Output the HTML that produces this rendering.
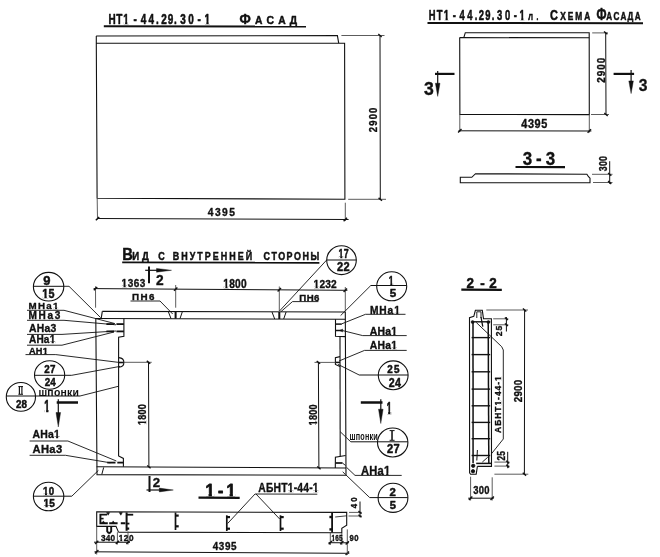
<!DOCTYPE html>
<html lang="ru">
<head>
<meta charset="utf-8">
<title>НТ1-44.29.30-1</title>
<style>
html,body{margin:0;padding:0;background:#fff;}
body{width:660px;height:557px;overflow:hidden;}
svg{display:block;will-change:transform;}
svg text{font-family:"Liberation Sans", sans-serif;fill:#111;}
svg line,svg polyline,svg polygon,svg path,svg circle,svg ellipse{stroke:#111;}
</style>
</head>
<body>
<svg width="660" height="557" viewBox="0 0 660 557">
<rect x="0" y="0" width="660" height="557" fill="#fff" stroke="none"/>
<defs>
<clipPath id="k0"><path clip-rule="evenodd" d="M-500,-500H1500V500H-500ZM20.17,-1.85H22.9V0.7H20.17ZM25.98,-1.85H28.53V0.7H25.98ZM136.3,-1.85H139.02V0.7H136.3ZM142.11,-1.85H144.65V0.7H142.11Z"/></clipPath>
<clipPath id="k1"><path clip-rule="evenodd" d="M-500,-500H1500V500H-500ZM21.16,-1.81H23.82V0.7H21.16ZM26.88,-1.81H29.36V0.7H26.88ZM132.42,-1.81H135.08V0.7H132.42ZM138.14,-1.81H140.62V0.7H138.14Z"/></clipPath>
<clipPath id="k2"><path clip-rule="evenodd" d="M-500,-500H1500V500H-500ZM0.01,-1.35H2.08V0.59H0.01ZM4.17,-1.35H6.1V0.59H4.17Z"/></clipPath>
<clipPath id="k3"><path clip-rule="evenodd" d="M-500,-500H1500V500H-500ZM0.04,-1.43H2.25V0.59H0.04ZM4.5,-1.43H6.56V0.59H4.5Z"/></clipPath>
<clipPath id="k4"><path clip-rule="evenodd" d="M-500,-500H1500V500H-500ZM0.07,-1.41H2.22V0.59H0.07ZM4.36,-1.41H6.38V0.59H4.36Z"/></clipPath>
<clipPath id="k5"><path clip-rule="evenodd" d="M-500,-500H1500V500H-500ZM0.1,-1.51H2.43V0.59H0.1ZM4.74,-1.51H6.92V0.59H4.74Z"/></clipPath>
<clipPath id="k6"><path clip-rule="evenodd" d="M-500,-500H1500V500H-500ZM0.09,-1.46H2.34V0.59H0.09ZM4.57,-1.46H6.68V0.59H4.57Z"/></clipPath>
<clipPath id="k7"><path clip-rule="evenodd" d="M-500,-500H1500V500H-500ZM0.07,-1.68H2.56V0.67H0.07ZM5.2,-1.68H7.53V0.67H5.2Z"/></clipPath>
<clipPath id="k8"><path clip-rule="evenodd" d="M-500,-500H1500V500H-500ZM24.59,-1.29H26.55V0.59H24.59ZM28.49,-1.29H30.33V0.59H28.49Z"/></clipPath>
<clipPath id="k9"><path clip-rule="evenodd" d="M-500,-500H1500V500H-500ZM21.63,-1.36H23.72V0.59H21.63ZM25.77,-1.36H27.72V0.59H25.77Z"/></clipPath>
<clipPath id="k10"><path clip-rule="evenodd" d="M-500,-500H1500V500H-500ZM14.12,-1.26H16.04V0.59H14.12ZM17.96,-1.26H19.75V0.59H17.96Z"/></clipPath>
<clipPath id="k11"><path clip-rule="evenodd" d="M-500,-500H1500V500H-500ZM-0.06,-2.14H3.02V0.77H-0.06ZM6.85,-2.14H9.73V0.77H6.85Z"/></clipPath>
<clipPath id="k12"><path clip-rule="evenodd" d="M-500,-500H1500V500H-500ZM22.5,-1.41H24.66V0.59H22.5ZM26.77,-1.41H28.78V0.59H26.77Z"/></clipPath>
<clipPath id="k13"><path clip-rule="evenodd" d="M-500,-500H1500V500H-500ZM-0.02,-1.51H2.18V0.67H-0.02ZM4.56,-1.51H6.63V0.67H4.56Z"/></clipPath>
<clipPath id="k14"><path clip-rule="evenodd" d="M-500,-500H1500V500H-500ZM-0.01,-1.51H2.2V0.67H-0.01ZM4.55,-1.51H6.61V0.67H4.55Z"/></clipPath>
<clipPath id="k15"><path clip-rule="evenodd" d="M-500,-500H1500V500H-500ZM-0.04,-1.62H2.36V0.67H-0.04ZM5.07,-1.62H7.3V0.67H5.07Z"/></clipPath>
<clipPath id="k16"><path clip-rule="evenodd" d="M-500,-500H1500V500H-500ZM-0.05,-1.64H2.37V0.67H-0.05ZM5.14,-1.64H7.4V0.67H5.14Z"/></clipPath>
<clipPath id="k17"><path clip-rule="evenodd" d="M-500,-500H1500V500H-500ZM24.32,-1.33H26.36V0.59H24.32ZM28.35,-1.33H30.25V0.59H28.35Z"/></clipPath>
<clipPath id="k18"><path clip-rule="evenodd" d="M-500,-500H1500V500H-500ZM22.21,-1.39H24.34V0.59H22.21ZM26.43,-1.39H28.42V0.59H26.43Z"/></clipPath>
<clipPath id="k19"><path clip-rule="evenodd" d="M-500,-500H1500V500H-500ZM23.67,-1.46H25.92V0.59H23.67ZM28.14,-1.46H30.25V0.59H28.14Z"/></clipPath>
<clipPath id="k20"><path clip-rule="evenodd" d="M-500,-500H1500V500H-500ZM-0.17,-2.07H2.8V0.77H-0.17ZM6.65,-2.07H9.42V0.77H6.65Z"/></clipPath>
<clipPath id="k21"><path clip-rule="evenodd" d="M-500,-500H1500V500H-500ZM24.52,-1.51H26.84V0.59H24.52ZM29.1,-1.51H31.27V0.59H29.1Z"/></clipPath>
<clipPath id="k22"><path clip-rule="evenodd" d="M-500,-500H1500V500H-500ZM-2.25,-2.23H0.9V0.82H-2.25ZM4.3,-2.23H7.24V0.82H4.3ZM19.85,-2.23H23.01V0.82H19.85ZM26.4,-2.23H29.35V0.82H26.4Z"/></clipPath>
<clipPath id="k23"><path clip-rule="evenodd" d="M-500,-500H1500V500H-500ZM33.96,-1.51H36.28V0.59H33.96ZM38.59,-1.51H40.76V0.59H38.59ZM62.82,-1.51H65.14V0.59H62.82ZM67.45,-1.51H69.62V0.59H67.45Z"/></clipPath>
<clipPath id="k24"><path clip-rule="evenodd" d="M-500,-500H1500V500H-500ZM-0.06,-1.21H1.77V0.59H-0.06ZM3.63,-1.21H5.34V0.59H3.63Z"/></clipPath>
<clipPath id="k25"><path clip-rule="evenodd" d="M-500,-500H1500V500H-500ZM-0.15,-1.15H1.57V0.59H-0.15ZM3.49,-1.15H5.11V0.59H3.49Z"/></clipPath>
<clipPath id="k26"><path clip-rule="evenodd" d="M-500,-500H1500V500H-500ZM29.72,-1.24H31.6V0.59H29.72ZM33.5,-1.24H35.26V0.59H33.5ZM56.49,-1.24H58.36V0.59H56.49ZM60.26,-1.24H62.02V0.59H60.26Z"/></clipPath>
</defs>
<text transform="translate(109.1 23.5) scale(0.7 1)" font-weight="bold" stroke="#111" stroke-width="0.55" stroke-linejoin="round" clip-path="url(#k0)"><tspan font-size="14.25" x="-0.93 10.4 20.14">НТ1</tspan><tspan font-size="14.25" x="34.97">-</tspan><tspan font-size="14.25" x="45.36 56.13 66.9">44.</tspan><tspan font-size="14.25" x="74.64 83.77 92.9">29.</tspan><tspan font-size="14.25" x="101.79 113.25">30</tspan><tspan font-size="14.25" x="126.19">-</tspan><tspan font-size="14.25" x="136.26">1</tspan></text>
<text transform="translate(239.9 23.5) scale(0.9 1)" font-weight="bold" stroke="#111" stroke-width="0.5" stroke-linejoin="round"><tspan font-size="14.66" x="-0.49">Ф</tspan><tspan font-size="11.45" x="16.88" style="text-transform:uppercase">а</tspan><tspan font-size="11.45" x="29.57" style="text-transform:uppercase">с</tspan><tspan font-size="11.45" x="42.49" style="text-transform:uppercase">а</tspan><tspan font-size="11.45" x="55.52" style="text-transform:uppercase">д</tspan></text>
<line x1="103.8" y1="26.2" x2="306" y2="26.5" stroke-width="2"/>
<polyline points="96.2,36 337.4,35.6 338.7,43.2" stroke-width="1.1" fill="none"/>
<polyline points="96.3,36 96.3,43.3 344.6,43.3 344.9,199.2 97.1,198.2 96.3,43.3" stroke-width="1.1" fill="none"/>
<line x1="341.4" y1="35.5" x2="384.5" y2="35.5" stroke-width="0.9" style="stroke:#4a4a4a"/>
<line x1="348.2" y1="199.3" x2="386" y2="199.3" stroke-width="0.9" style="stroke:#4a4a4a"/>
<line x1="380" y1="35.5" x2="380.3" y2="199.3" stroke-width="1"/>
<line x1="378.3" y1="34.05" x2="381.7" y2="36.95" stroke-width="1.4"/>
<line x1="378.6" y1="197.86" x2="382" y2="200.75" stroke-width="1.4"/>
<text transform="translate(376.6 131.8) rotate(-90) translate(-0.33 0) scale(0.92 1)" font-size="10.34" font-weight="bold" style="letter-spacing:1.22px" stroke="#111" stroke-width="0.35" stroke-linejoin="round">2900</text>
<line x1="97.2" y1="199" x2="97.5" y2="219.5" stroke-width="0.9" style="stroke:#4a4a4a"/>
<line x1="345.3" y1="202.7" x2="345.3" y2="221" stroke-width="0.9" style="stroke:#4a4a4a"/>
<line x1="97.4" y1="218.5" x2="348.6" y2="219.5" stroke-width="1"/>
<line x1="95.8" y1="220.3" x2="99.2" y2="216.9" stroke-width="1.4"/>
<line x1="343.6" y1="221.2" x2="347" y2="217.8" stroke-width="1.4"/>
<text transform="translate(208 216.4) translate(-0.15 0) scale(0.92 1)" font-size="11.17" font-weight="bold" style="letter-spacing:1.54px" stroke="#111" stroke-width="0.35" stroke-linejoin="round">4395</text>
<text transform="translate(429.4 19.9) scale(0.68 1)" font-weight="bold" stroke="#111" stroke-width="0.55" stroke-linejoin="round" clip-path="url(#k1)"><tspan font-size="13.83" x="-0.9 10.91 21.17">НТ1</tspan><tspan font-size="13.83" x="34.52">-</tspan><tspan font-size="13.83" x="44.35 55.52 66.69">44.</tspan><tspan font-size="13.83" x="72.46 82 91.54">29.</tspan><tspan font-size="13.83" x="99.51 111.28">30</tspan><tspan font-size="13.83" x="124.23">-</tspan><tspan font-size="13.83" x="132.43">1</tspan> <tspan font-size="9.78" x="145.54 157.67" style="text-transform:uppercase">л.</tspan></text>
<text transform="translate(550.5 19.8) scale(0.72 1)" font-weight="bold" stroke="#111" stroke-width="0.55" stroke-linejoin="round"><tspan font-size="15.22" x="-0.8">С</tspan><tspan font-size="11.59" x="13.63 24.06 34.48 46.83" style="text-transform:uppercase">хема</tspan></text>
<text transform="translate(597.4 20) scale(0.7 1)" font-weight="bold" stroke="#111" stroke-width="0.55" stroke-linejoin="round"><tspan font-size="16.76" x="-1.24">Ф</tspan><tspan font-size="11.59" x="12.57 22.87 32.89 42.91 53.53" style="text-transform:uppercase">асада</tspan></text>
<line x1="427.5" y1="22.9" x2="643" y2="23.2" stroke-width="2"/>
<polyline points="459.7,37.6 459.9,114.4 589.3,114.6 589.2,32.7 465.3,32.7 463.8,37.6" stroke-width="1.1" fill="none"/>
<line x1="459.7" y1="37.6" x2="589.2" y2="37.8" stroke-width="1.1"/>
<line x1="459.8" y1="114.4" x2="459.8" y2="132" stroke-width="0.9" style="stroke:#4a4a4a"/>
<line x1="589.3" y1="114.6" x2="589.3" y2="132.5" stroke-width="0.9" style="stroke:#4a4a4a"/>
<line x1="458.5" y1="130.8" x2="591.4" y2="131" stroke-width="1"/>
<line x1="458.1" y1="132.5" x2="461.5" y2="129.1" stroke-width="1.4"/>
<line x1="587.6" y1="132.7" x2="591" y2="129.3" stroke-width="1.4"/>
<text transform="translate(521.5 127.8) translate(-0.16 0) scale(0.92 1)" font-size="11.87" font-weight="bold" style="letter-spacing:0.59px" stroke="#111" stroke-width="0.35" stroke-linejoin="round">4395</text>
<line x1="592.2" y1="32.9" x2="608" y2="32.9" stroke-width="0.9" style="stroke:#4a4a4a"/>
<line x1="591" y1="114.5" x2="609" y2="114.5" stroke-width="0.9" style="stroke:#4a4a4a"/>
<line x1="605.7" y1="32.9" x2="606" y2="114.5" stroke-width="1"/>
<line x1="604" y1="31.45" x2="607.4" y2="34.34" stroke-width="1.4"/>
<line x1="604.3" y1="113.06" x2="607.7" y2="115.94" stroke-width="1.4"/>
<text transform="translate(604.7 82.4) rotate(-90) translate(-0.35 0) scale(0.92 1)" font-size="10.75" font-weight="bold" style="letter-spacing:1.06px" stroke="#111" stroke-width="0.35" stroke-linejoin="round">2900</text>
<text transform="translate(424.5 94.5) translate(-0.44 0) scale(0.93 1)" font-size="18.99" font-weight="bold" stroke="#111" stroke-width="0.35" stroke-linejoin="round">3</text>
<line x1="435" y1="73.9" x2="454.5" y2="73.9" stroke-width="2.2"/>
<line x1="437.7" y1="70.9" x2="437.7" y2="84.2" stroke-width="1.2"/>
<polygon points="435.4,83.2 440,83.2 437.7,96.4" stroke-width="0.4" fill="#111"/>
<line x1="613.6" y1="73.9" x2="634.1" y2="73.9" stroke-width="2.2"/>
<line x1="631.1" y1="70" x2="631.1" y2="81.9" stroke-width="1.2"/>
<polygon points="628.8,80.9 633.4,80.9 631.1,93.6" stroke-width="0.4" fill="#111"/>
<text transform="translate(639.1 90.5) translate(-0.39 0) scale(0.91 1)" font-size="17.18" font-weight="bold" stroke="#111" stroke-width="0.35" stroke-linejoin="round">3</text>
<text transform="translate(523.2 165) translate(-0.42 0) scale(0.92 1)" font-size="18.44" font-weight="bold" style="letter-spacing:4.24px" stroke="#111" stroke-width="0.35" stroke-linejoin="round">3-3</text>
<line x1="515.5" y1="167" x2="565" y2="167.2" stroke-width="2.2"/>
<polygon points="460.3,177.3 471.8,177.3 475.5,173.7 586.9,174.3 588.5,176.7 590,178.2 590,182.6 460.3,182.8" stroke-width="1.1" fill="none"/>
<line x1="592" y1="174.3" x2="612.5" y2="174.3" stroke-width="0.9" style="stroke:#4a4a4a"/>
<line x1="593" y1="182.5" x2="612.5" y2="182.5" stroke-width="0.9" style="stroke:#4a4a4a"/>
<line x1="609.7" y1="161.2" x2="609.7" y2="183.8" stroke-width="1"/>
<line x1="608.1" y1="172.94" x2="611.3" y2="175.66" stroke-width="1.4"/>
<line x1="608.1" y1="181.14" x2="611.3" y2="183.86" stroke-width="1.4"/>
<text transform="translate(607.4 171) rotate(-90) translate(-0.22 0) scale(0.79 1)" font-size="11.17" font-weight="bold" style="letter-spacing:0.25px" stroke="#111" stroke-width="0.35" stroke-linejoin="round">300</text>
<text transform="translate(123.6 260) scale(0.86 1)" font-weight="bold" stroke="#111" stroke-width="0.5" stroke-linejoin="round"><tspan font-size="17.18" x="-1.7">В</tspan><tspan font-size="11.17" x="10.2 21.29" style="text-transform:uppercase">ид</tspan></text>
<text transform="translate(158.7 260) scale(0.8 1)" font-weight="bold" stroke="#111" stroke-width="0.5" stroke-linejoin="round"><tspan font-size="11.17" x="-0.67" style="text-transform:uppercase">с</tspan> <tspan font-size="11.17" x="17.52 28.12 38.72 48.21 57.56 67.55 77.53 88.13 98.73 108.71" style="text-transform:uppercase">внутренней</tspan> <tspan font-size="11.17" x="131.05 141.05 149.52 159.86 169.24 179.71 189.71" style="text-transform:uppercase">стороны</tspan></text>
<line x1="122.2" y1="262.4" x2="319.4" y2="262.8" stroke-width="1.9"/>
<polyline points="102.3,311.4 345.2,312" stroke-width="1.1" fill="none"/>
<polyline points="102.3,311.4 101.2,318.5" stroke-width="1.1" fill="none"/>
<polyline points="95.6,318.5 345.3,319.3" stroke-width="1.1" fill="none"/>
<polyline points="95.8,318.5 97,474.6 346,475.3 345.3,311.8" stroke-width="1.1" fill="none"/>
<polyline points="96.6,466.7 346,468" stroke-width="1.1" fill="none"/>
<line x1="103.7" y1="467.4" x2="101.8" y2="474.4" stroke-width="1"/>
<polyline points="123.9,318.5 123.9,336.4 118.6,337.3 118.6,455.9 123.4,458.4 123.4,466.8" stroke-width="1.1" fill="none"/>
<line x1="106.4" y1="324.1" x2="114" y2="324.1" stroke-width="1.8"/>
<line x1="116.4" y1="324.1" x2="123.9" y2="324.1" stroke-width="1.8"/>
<line x1="106.4" y1="331.4" x2="114" y2="331.4" stroke-width="1.8"/>
<line x1="116.4" y1="331.4" x2="123.9" y2="331.4" stroke-width="1.8"/>
<path d="M118.8,357.6 C125.6,358.2 125.6,366.8 118.8,367.3" stroke-width="1.1" fill="none"/>
<line x1="118.8" y1="362.5" x2="123.8" y2="362.5" stroke-width="1.6"/>
<line x1="124" y1="362.3" x2="151.7" y2="362.3" stroke-width="0.9" style="stroke:#4a4a4a"/>
<line x1="148.5" y1="362.3" x2="148.9" y2="466.9" stroke-width="1"/>
<line x1="146.8" y1="360.86" x2="150.2" y2="363.75" stroke-width="1.4"/>
<line x1="147.2" y1="465.45" x2="150.6" y2="468.34" stroke-width="1.4"/>
<text transform="translate(145.6 424.5) rotate(-90) translate(-0.59 0) scale(0.88 1)" font-size="10.34" font-weight="bold" style="letter-spacing:0.23px" stroke="#111" stroke-width="0.35" stroke-linejoin="round" clip-path="url(#k2)">1800</text>
<line x1="107.3" y1="462.6" x2="115.5" y2="462.6" stroke-width="1.8"/>
<line x1="117.3" y1="462.6" x2="123.4" y2="462.6" stroke-width="1.8"/>
<polyline points="335.5,319.2 335.5,336.3 345.4,336.6" stroke-width="1.1" fill="none"/>
<line x1="340" y1="336.4" x2="340.2" y2="456.6" stroke-width="1.1"/>
<line x1="335.5" y1="324.1" x2="341.8" y2="324.1" stroke-width="1.5"/>
<line x1="335.5" y1="330.5" x2="341" y2="330.5" stroke-width="1.5"/>
<polyline points="340,356.6 335.4,357.6 335.4,364.4 340,366.4" stroke-width="1.1" fill="none"/>
<line x1="335.4" y1="362.4" x2="340" y2="362.4" stroke-width="1.5"/>
<line x1="314.5" y1="362.4" x2="335.5" y2="362.4" stroke-width="0.9" style="stroke:#4a4a4a"/>
<line x1="318.4" y1="362.4" x2="318.9" y2="467.9" stroke-width="1"/>
<line x1="316.7" y1="360.95" x2="320.1" y2="363.84" stroke-width="1.4"/>
<line x1="317.2" y1="466.45" x2="320.6" y2="469.34" stroke-width="1.4"/>
<text transform="translate(317.4 424.8) rotate(-90) translate(-0.59 0) scale(0.82 1)" font-size="11.17" font-weight="bold" style="letter-spacing:0.24px" stroke="#111" stroke-width="0.35" stroke-linejoin="round" clip-path="url(#k3)">1800</text>
<polyline points="345.6,455.5 335.4,457.2 335.3,468" stroke-width="1.1" fill="none"/>
<line x1="335.5" y1="463" x2="342.4" y2="463" stroke-width="1.7"/>
<line x1="342.4" y1="463" x2="345.6" y2="465.5" stroke-width="0.9"/>
<line x1="342.7" y1="471.8" x2="345.5" y2="474.6" stroke-width="0.9"/>
<line x1="93.6" y1="288.6" x2="347.4" y2="290.3" stroke-width="1"/>
<line x1="95.5" y1="286.3" x2="95.6" y2="307.7" stroke-width="0.9" style="stroke:#4a4a4a"/>
<line x1="175.7" y1="285" x2="175.7" y2="307.7" stroke-width="0.9" style="stroke:#4a4a4a"/>
<line x1="279.3" y1="286.5" x2="279.3" y2="311" stroke-width="0.9" style="stroke:#4a4a4a"/>
<line x1="345.3" y1="287" x2="345.3" y2="311.5" stroke-width="0.9" style="stroke:#4a4a4a"/>
<line x1="93.8" y1="290.3" x2="97.2" y2="286.9" stroke-width="1.4"/>
<line x1="174" y1="290.8" x2="177.4" y2="287.4" stroke-width="1.4"/>
<line x1="277.6" y1="291.5" x2="281" y2="288.1" stroke-width="1.4"/>
<line x1="343.6" y1="292" x2="347" y2="288.6" stroke-width="1.4"/>
<text transform="translate(122.2 286.8) translate(-0.65 0) scale(0.92 1)" font-size="10.89" font-weight="bold" style="letter-spacing:0.58px" stroke="#111" stroke-width="0.35" stroke-linejoin="round" clip-path="url(#k4)">1363</text>
<text transform="translate(224 287.7) translate(-0.66 0) scale(0.86 1)" font-size="11.87" font-weight="bold" style="letter-spacing:0.23px" stroke="#111" stroke-width="0.35" stroke-linejoin="round" clip-path="url(#k5)">1800</text>
<text transform="translate(314.2 287.6) translate(-0.67 0) scale(0.89 1)" font-size="11.45" font-weight="bold" style="letter-spacing:0.22px" stroke="#111" stroke-width="0.35" stroke-linejoin="round" clip-path="url(#k6)">1232</text>
<line x1="168.3" y1="311.6" x2="171" y2="318.6" stroke-width="1"/>
<line x1="182.4" y1="311.6" x2="180" y2="318.6" stroke-width="1"/>
<line x1="175.6" y1="311.6" x2="175.6" y2="318.6" stroke-width="2"/>
<line x1="272" y1="312" x2="274.7" y2="319" stroke-width="1"/>
<line x1="286.1" y1="312" x2="283.7" y2="319" stroke-width="1"/>
<line x1="279.3" y1="312" x2="279.3" y2="319" stroke-width="2"/>
<text transform="translate(132.7 299.7) translate(-0.64 0) scale(1.05 1)" font-size="9.36" font-weight="bold" style="letter-spacing:1.37px" stroke="#111" stroke-width="0.35" stroke-linejoin="round">ПН6</text>
<polyline points="130.5,301 160,301 172.7,314" stroke-width="0.9" fill="none"/>
<text transform="translate(300 300.6) translate(-0.63 0) scale(1.05 1)" font-size="9.22" font-weight="bold" style="letter-spacing:0.31px" stroke="#111" stroke-width="0.35" stroke-linejoin="round">ПН6</text>
<polyline points="318.4,301.6 292.5,301.6 281,311.6" stroke-width="0.9" fill="none"/>
<line x1="149" y1="266.4" x2="149" y2="283.3" stroke-width="2"/>
<line x1="145.2" y1="270.3" x2="157.5" y2="270.3" stroke-width="1.2"/>
<polygon points="156.5,268.4 156.5,272.2 171.5,270.3" stroke-width="0.4" fill="#111"/>
<text transform="translate(156.4 284.5) translate(-0.48 0) scale(0.94 1)" font-size="14.66" font-weight="bold" stroke="#111" stroke-width="0.35" stroke-linejoin="round">2</text>
<line x1="149.5" y1="476" x2="149.5" y2="492" stroke-width="2"/>
<line x1="146.5" y1="490" x2="160.3" y2="490" stroke-width="1.2"/>
<polygon points="159.3,488.1 159.3,491.9 173.3,490" stroke-width="0.4" fill="#111"/>
<text transform="translate(153.2 486.8) translate(-0.47 0) scale(0.97 1)" font-size="13.69" font-weight="bold" stroke="#111" stroke-width="0.35" stroke-linejoin="round">2</text>
<ellipse cx="48.6" cy="286.7" rx="15.2" ry="14.3" stroke-width="1.1" fill="none"/>
<text transform="translate(43.7 284.7) translate(-0.45 0) scale(0.99 1)" font-size="13.13" font-weight="bold" stroke="#111" stroke-width="0.5" stroke-linejoin="round">9</text>
<text transform="translate(43 297.5) translate(-0.7 0) scale(0.84 1)" font-size="12.85" font-weight="bold" style="letter-spacing:0.24px" stroke="#111" stroke-width="0.5" stroke-linejoin="round" clip-path="url(#k7)">15</text>
<polyline points="63.4,286.3 69,286.3 100.6,317.6" stroke-width="0.9" fill="none"/>
<line x1="33.4" y1="286.3" x2="63.8" y2="286.3" stroke-width="1"/>
<text transform="translate(29.2 308.8) translate(-0.64 0) scale(1 1)" font-size="9.78" font-weight="bold" style="letter-spacing:1.31px" stroke="#111" stroke-width="0.35" stroke-linejoin="round" clip-path="url(#k8)">МНа1</text>
<line x1="27" y1="310.3" x2="64" y2="310.3" stroke-width="0.9"/>
<line x1="64" y1="310.3" x2="115" y2="323.6" stroke-width="0.9"/>
<text transform="translate(29.2 318.6) translate(-0.65 0) scale(1 1)" font-size="10.06" font-weight="bold" style="letter-spacing:1.67px" stroke="#111" stroke-width="0.35" stroke-linejoin="round">МНа3</text>
<line x1="27" y1="320.3" x2="64" y2="320.3" stroke-width="0.9"/>
<line x1="64" y1="320.3" x2="116" y2="324.8" stroke-width="0.9"/>
<text transform="translate(29.2 332.2) translate(-0.26 0) scale(1 1)" font-size="10.34" font-weight="bold" style="letter-spacing:0.27px" stroke="#111" stroke-width="0.35" stroke-linejoin="round">АНа3</text>
<line x1="27" y1="334.4" x2="62" y2="334.4" stroke-width="0.9"/>
<line x1="62" y1="334.4" x2="116" y2="331" stroke-width="0.9"/>
<text transform="translate(29.2 343.3) translate(-0.25 0) scale(0.96 1)" font-size="10.47" font-weight="bold" style="letter-spacing:0.21px" stroke="#111" stroke-width="0.35" stroke-linejoin="round" clip-path="url(#k9)">АНа1</text>
<line x1="27" y1="345.2" x2="62" y2="345.2" stroke-width="0.9"/>
<line x1="62" y1="345.2" x2="114" y2="332" stroke-width="0.9"/>
<text transform="translate(29.2 353.5) translate(-0.23 0) scale(0.97 1)" font-size="9.5" font-weight="bold" style="letter-spacing:0.21px" stroke="#111" stroke-width="0.35" stroke-linejoin="round" clip-path="url(#k10)">АН1</text>
<line x1="25.5" y1="354.6" x2="55.8" y2="354.6" stroke-width="0.9"/>
<line x1="55.8" y1="354.6" x2="118.8" y2="362.4" stroke-width="0.9"/>
<ellipse cx="49.6" cy="375" rx="15.1" ry="14.2" stroke-width="1.1" fill="none"/>
<text transform="translate(44.7 373) translate(-0.34 0) scale(0.88 1)" font-size="11.17" font-weight="bold" style="letter-spacing:0.23px" stroke="#111" stroke-width="0.5" stroke-linejoin="round">27</text>
<text transform="translate(45 385.8) translate(-0.35 0) scale(0.85 1)" font-size="11.59" font-weight="bold" style="letter-spacing:0.23px" stroke="#111" stroke-width="0.5" stroke-linejoin="round">24</text>
<line x1="34.5" y1="375.3" x2="71.7" y2="375.3" stroke-width="1"/>
<line x1="71.7" y1="375.3" x2="120" y2="366.4" stroke-width="0.9"/>
<ellipse cx="20.9" cy="396.9" rx="14.6" ry="14.4" stroke-width="1.1" fill="none"/>
<text transform="translate(16.3 407.5) translate(-0.34 0) scale(0.9 1)" font-size="10.89" font-weight="bold" style="letter-spacing:0.22px" stroke="#111" stroke-width="0.5" stroke-linejoin="round">28</text>
<text transform="translate(18.85 394.2) translate(-0.54 0) scale(0.79 1)" font-size="10.47" font-weight="bold">I</text>
<text transform="translate(21.35 394.2) translate(-0.54 0) scale(0.79 1)" font-size="10.47" font-weight="bold">I</text>
<line x1="18.4" y1="386.6" x2="23" y2="386.6" stroke-width="1"/>
<line x1="18.4" y1="394.3" x2="23" y2="394.3" stroke-width="1"/>
<line x1="6.6" y1="396" x2="80" y2="396" stroke-width="1"/>
<line x1="80" y1="396" x2="118.8" y2="386.2" stroke-width="0.9"/>
<text transform="translate(39.2 395.8) translate(-0.73 0) scale(0.89 1)" font-size="11.75" font-weight="bold" style="letter-spacing:0.22px">шпонки</text>
<text transform="translate(45 412.2) translate(-0.63 0) scale(0.59 1)" font-size="16.34" font-weight="bold" stroke="#111" stroke-width="0.7" stroke-linejoin="round" clip-path="url(#k11)">1</text>
<line x1="56.7" y1="402.5" x2="78" y2="402.5" stroke-width="2.5"/>
<line x1="58.3" y1="399.2" x2="58.3" y2="413.5" stroke-width="1.2"/>
<polygon points="56,412.5 60.6,412.5 58.3,427" stroke-width="0.4" fill="#111"/>
<text transform="translate(32.7 438.4) translate(-0.26 0) scale(0.96 1)" font-size="10.89" font-weight="bold" style="letter-spacing:0.21px" stroke="#111" stroke-width="0.35" stroke-linejoin="round" clip-path="url(#k12)">АНа1</text>
<line x1="29.6" y1="441" x2="67.9" y2="441" stroke-width="0.9"/>
<line x1="67.9" y1="441" x2="116.4" y2="461" stroke-width="0.9"/>
<text transform="translate(32.7 453) translate(-0.28 0) scale(1 1)" font-size="11.17" font-weight="bold" style="letter-spacing:0.41px" stroke="#111" stroke-width="0.35" stroke-linejoin="round">АНа3</text>
<line x1="29.6" y1="455.3" x2="65.5" y2="455.3" stroke-width="0.9"/>
<line x1="65.5" y1="455.3" x2="110.3" y2="462.8" stroke-width="0.9"/>
<ellipse cx="48.6" cy="496.5" rx="15.2" ry="14.3" stroke-width="1.1" fill="none"/>
<text transform="translate(43.7 494.7) translate(-0.63 0) scale(0.87 1)" font-size="11.17" font-weight="bold" style="letter-spacing:0.23px" stroke="#111" stroke-width="0.5" stroke-linejoin="round" clip-path="url(#k13)">10</text>
<text transform="translate(44.2 507.2) translate(-0.66 0) scale(0.9 1)" font-size="11.17" font-weight="bold" style="letter-spacing:0.22px" stroke="#111" stroke-width="0.5" stroke-linejoin="round" clip-path="url(#k14)">15</text>
<line x1="33.3" y1="496.2" x2="71.8" y2="496.2" stroke-width="1"/>
<line x1="71.8" y1="496.2" x2="98.4" y2="470.4" stroke-width="0.9"/>
<ellipse cx="341.5" cy="260.2" rx="14.8" ry="14.4" stroke-width="1.1" fill="none"/>
<text transform="translate(339.2 258) translate(-0.58 0) scale(0.72 1)" font-size="12.29" font-weight="bold" style="letter-spacing:0.28px" stroke="#111" stroke-width="0.5" stroke-linejoin="round" clip-path="url(#k15)">17</text>
<text transform="translate(337.5 270.8) translate(-0.39 0) scale(0.92 1)" font-size="12.01" font-weight="bold" style="letter-spacing:0.29px" stroke="#111" stroke-width="0.5" stroke-linejoin="round">22</text>
<line x1="326.7" y1="260" x2="356.3" y2="260" stroke-width="1"/>
<line x1="326.7" y1="260" x2="279.5" y2="311" stroke-width="0.9"/>
<ellipse cx="391.7" cy="286.3" rx="15" ry="14.5" stroke-width="1.1" fill="none"/>
<text transform="translate(389.3 284.7) translate(-0.56 0) scale(0.69 1)" font-size="12.43" font-weight="bold" stroke="#111" stroke-width="0.5" stroke-linejoin="round" clip-path="url(#k16)">1</text>
<text transform="translate(390 296.7) translate(-0.35 0) scale(0.99 1)" font-size="11.73" font-weight="bold" stroke="#111" stroke-width="0.5" stroke-linejoin="round">5</text>
<line x1="370.8" y1="285.5" x2="406.7" y2="285.5" stroke-width="1"/>
<line x1="370.8" y1="285.5" x2="340.6" y2="315.6" stroke-width="0.9"/>
<text transform="translate(370.6 313.5) translate(-0.66 0) scale(1 1)" font-size="10.2" font-weight="bold" style="letter-spacing:0.92px" stroke="#111" stroke-width="0.35" stroke-linejoin="round" clip-path="url(#k17)">МНа1</text>
<line x1="405.5" y1="314.3" x2="365.5" y2="314.3" stroke-width="0.9"/>
<line x1="365.5" y1="314.3" x2="341.8" y2="323.8" stroke-width="0.9"/>
<text transform="translate(370 334.5) translate(-0.26 0) scale(0.97 1)" font-size="10.75" font-weight="bold" style="letter-spacing:0.21px" stroke="#111" stroke-width="0.35" stroke-linejoin="round" clip-path="url(#k18)">АНа1</text>
<line x1="406.7" y1="335.6" x2="362.7" y2="335.6" stroke-width="0.9"/>
<line x1="362.7" y1="335.6" x2="342.3" y2="330.5" stroke-width="0.9"/>
<polygon points="339.6,330.5 342.6,329 342.6,332" stroke-width="0.4" fill="#111"/>
<text transform="translate(370 349) translate(-0.26 0) scale(0.91 1)" font-size="11.45" font-weight="bold" style="letter-spacing:0.22px" stroke="#111" stroke-width="0.35" stroke-linejoin="round" clip-path="url(#k19)">АНа1</text>
<line x1="406.7" y1="350.4" x2="364.5" y2="350.4" stroke-width="0.9"/>
<line x1="364.5" y1="350.4" x2="339" y2="361" stroke-width="0.9"/>
<ellipse cx="393.2" cy="375.3" rx="14.9" ry="14.4" stroke-width="1.1" fill="none"/>
<text transform="translate(387.5 373) translate(-0.35 0) scale(0.92 1)" font-size="10.75" font-weight="bold" style="letter-spacing:1.43px" stroke="#111" stroke-width="0.5" stroke-linejoin="round">25</text>
<text transform="translate(389.2 386.7) translate(-0.37 0) scale(0.83 1)" font-size="12.85" font-weight="bold" style="letter-spacing:0.24px" stroke="#111" stroke-width="0.5" stroke-linejoin="round">24</text>
<line x1="359.2" y1="375" x2="408.1" y2="375" stroke-width="1"/>
<line x1="359.2" y1="375" x2="338" y2="364.4" stroke-width="0.9"/>
<line x1="360.8" y1="402.5" x2="382.5" y2="402.5" stroke-width="2.5"/>
<line x1="380.8" y1="399.2" x2="380.8" y2="410.2" stroke-width="1.2"/>
<polygon points="378.5,409.2 383.1,409.2 380.8,423.5" stroke-width="0.4" fill="#111"/>
<text transform="translate(387.2 413.5) translate(-0.56 0) scale(0.55 1)" font-size="15.64" font-weight="bold" stroke="#111" stroke-width="0.7" stroke-linejoin="round" clip-path="url(#k20)">1</text>
<ellipse cx="392.7" cy="442.5" rx="15.2" ry="14.5" stroke-width="1.1" fill="none"/>
<text transform="translate(387.5 453.3) translate(-0.39 0) scale(0.92 1)" font-size="12.01" font-weight="bold" style="letter-spacing:0.35px" stroke="#111" stroke-width="0.5" stroke-linejoin="round">27</text>
<text transform="translate(391.3 440.2) translate(-0.72 0) scale(0.83 1)" font-size="13.27" font-weight="bold">I</text>
<line x1="389.6" y1="430.6" x2="394.6" y2="430.6" stroke-width="1"/>
<line x1="389.6" y1="440.3" x2="394.6" y2="440.3" stroke-width="1"/>
<line x1="350.8" y1="441.8" x2="407.9" y2="441.8" stroke-width="1"/>
<line x1="350.8" y1="441.8" x2="340.2" y2="431.7" stroke-width="0.9"/>
<text transform="translate(350 439.9) translate(-0.51 0) scale(0.66 1)" font-size="10.98" font-weight="bold" style="letter-spacing:0.3px">шпонки</text>
<text transform="translate(361.3 474.5) translate(-0.28 0) scale(0.94 1)" font-size="11.87" font-weight="bold" style="letter-spacing:0.21px" stroke="#111" stroke-width="0.35" stroke-linejoin="round" clip-path="url(#k21)">АНа1</text>
<line x1="401.7" y1="475.4" x2="355" y2="475.4" stroke-width="0.9"/>
<line x1="355" y1="475.4" x2="346.5" y2="467.3" stroke-width="0.9"/>
<ellipse cx="393" cy="497.8" rx="14.9" ry="14.6" stroke-width="1.1" fill="none"/>
<text transform="translate(389.8 495.7) translate(-0.4 0) scale(1.01 1)" font-size="11.31" font-weight="bold" stroke="#111" stroke-width="0.5" stroke-linejoin="round">2</text>
<text transform="translate(390.2 508.7) translate(-0.34 0) scale(0.95 1)" font-size="11.73" font-weight="bold" stroke="#111" stroke-width="0.5" stroke-linejoin="round">5</text>
<line x1="369.7" y1="497.6" x2="407.8" y2="497.6" stroke-width="1"/>
<line x1="369.7" y1="497.6" x2="346" y2="475" stroke-width="0.9"/>
<text transform="translate(207.8 495.8) scale(0.95 1)" font-weight="bold" stroke="#111" stroke-width="0.8" stroke-linejoin="round" clip-path="url(#k22)"><tspan font-size="16.76" x="-2.46">1</tspan><tspan font-size="16.76" x="10.77">-</tspan><tspan font-size="16.76" x="19.65">1</tspan></text>
<line x1="198.5" y1="497.6" x2="239.7" y2="497.8" stroke-width="2.2"/>
<text transform="translate(258.6 492) translate(-0.26 0) scale(0.87 1)" font-size="11.87" font-weight="bold" style="letter-spacing:0.23px" stroke="#111" stroke-width="0.35" stroke-linejoin="round" clip-path="url(#k23)">АБНТ1-44-1</text>
<line x1="255" y1="494" x2="317.3" y2="494.2" stroke-width="0.9"/>
<line x1="255" y1="494" x2="227.6" y2="523.5" stroke-width="0.9"/>
<line x1="256" y1="494" x2="279.7" y2="519" stroke-width="0.9"/>
<polyline points="118.5,532.1 116,526.4 96.7,526.4 96.7,511.8 346.7,512.4 346.7,525.2 341.8,528.2 341.8,532.7 118.5,532.1" stroke-width="1.1" fill="none"/>
<line x1="335.2" y1="517" x2="346.7" y2="515.8" stroke-width="0.8"/>
<path d="M107,514.6 H100.4 V523.3 H107.8 M109.2,523.3 H117.6 M120.8,523.3 H125.4" stroke-width="1.9" fill="none"/>
<path d="M100.4,518.6 H103.6" stroke-width="1.6" fill="none"/>
<polygon points="106.6,512.6 109.6,512.6 108.1,515.2" stroke-width="0.6" fill="#111"/>
<polygon points="119.3,512.6 122.3,512.6 120.8,515.2" stroke-width="0.6" fill="#111"/>
<polygon points="102,523.3 104.8,523.3 103.4,520.9" stroke-width="0.6" fill="#111"/>
<polygon points="111.8,523.3 114.6,523.3 113.2,520.9" stroke-width="0.6" fill="#111"/>
<line x1="126.6" y1="512.4" x2="126.6" y2="530.8" stroke-width="2"/>
<line x1="126.6" y1="514.7" x2="133.2" y2="514.7" stroke-width="1.8"/>
<line x1="126.6" y1="523.6" x2="129.4" y2="523.6" stroke-width="1.8"/>
<line x1="126.6" y1="528.6" x2="129.2" y2="528.6" stroke-width="2.2"/>
<path d="M107.2,526.8 V531.2 Q109.2,534.8 111.2,531.2 V526.8" stroke-width="1.9" fill="none"/>
<line x1="175.5" y1="512.5" x2="175.5" y2="530" stroke-width="1.7"/>
<line x1="175.5" y1="515.6" x2="178.7" y2="515.6" stroke-width="2.2"/>
<line x1="175.5" y1="526.3" x2="178.7" y2="526.3" stroke-width="2.2"/>
<line x1="226.8" y1="515.3" x2="226.8" y2="531" stroke-width="1.7"/>
<line x1="226.8" y1="517.1" x2="230" y2="517.1" stroke-width="2.2"/>
<line x1="226.8" y1="528.7" x2="230" y2="528.7" stroke-width="2.2"/>
<line x1="280.5" y1="515.3" x2="280.5" y2="531" stroke-width="1.7"/>
<line x1="280.5" y1="517.1" x2="283.7" y2="517.1" stroke-width="2.2"/>
<line x1="280.5" y1="528.7" x2="283.7" y2="528.7" stroke-width="2.2"/>
<line x1="332.1" y1="512.6" x2="332.1" y2="532.4" stroke-width="1.8"/>
<line x1="329.4" y1="517" x2="332" y2="517" stroke-width="2.4"/>
<line x1="329.4" y1="529.4" x2="332" y2="529.4" stroke-width="2.4"/>
<line x1="96.7" y1="526.4" x2="96.7" y2="554.5" stroke-width="0.9" style="stroke:#4a4a4a"/>
<line x1="117.4" y1="532.2" x2="117.4" y2="544.5" stroke-width="0.9" style="stroke:#4a4a4a"/>
<line x1="128" y1="531.5" x2="128" y2="544.5" stroke-width="0.9" style="stroke:#4a4a4a"/>
<line x1="94" y1="542.2" x2="130" y2="542.3" stroke-width="1"/>
<line x1="95.1" y1="543.9" x2="98.3" y2="540.7" stroke-width="1.4"/>
<line x1="115.8" y1="543.9" x2="119" y2="540.7" stroke-width="1.4"/>
<line x1="126.4" y1="544" x2="129.6" y2="540.8" stroke-width="1.4"/>
<text transform="translate(101.1 540.7) translate(-0.21 0) scale(0.92 1)" font-size="8.94" font-weight="bold" style="letter-spacing:0.24px" stroke="#111" stroke-width="0.35" stroke-linejoin="round">340</text>
<text transform="translate(119.3 540.7) translate(-0.53 0) scale(0.92 1)" font-size="8.94" font-weight="bold" style="letter-spacing:0.58px" stroke="#111" stroke-width="0.35" stroke-linejoin="round" clip-path="url(#k24)">120</text>
<line x1="94.5" y1="551.8" x2="349.3" y2="553.3" stroke-width="1"/>
<line x1="95" y1="553.5" x2="98.4" y2="550.1" stroke-width="1.4"/>
<line x1="345.6" y1="555" x2="349" y2="551.6" stroke-width="1.4"/>
<text transform="translate(212.8 550.3) translate(-0.15 0) scale(0.92 1)" font-size="10.75" font-weight="bold" style="letter-spacing:0.72px" stroke="#111" stroke-width="0.35" stroke-linejoin="round">4395</text>
<line x1="330.3" y1="533" x2="330.3" y2="545" stroke-width="0.9" style="stroke:#4a4a4a"/>
<line x1="341.8" y1="533" x2="341.8" y2="545" stroke-width="0.9" style="stroke:#4a4a4a"/>
<line x1="347.3" y1="529.4" x2="347.3" y2="555" stroke-width="0.9" style="stroke:#4a4a4a"/>
<line x1="328.5" y1="542.7" x2="348.8" y2="542.8" stroke-width="1"/>
<line x1="328.7" y1="544.3" x2="331.9" y2="541.1" stroke-width="1.4"/>
<line x1="340.2" y1="544.3" x2="343.4" y2="541.1" stroke-width="1.4"/>
<line x1="345.7" y1="544.4" x2="348.9" y2="541.2" stroke-width="1.4"/>
<text transform="translate(331.8 540.8) translate(-0.42 0) scale(0.77 1)" font-size="8.38" font-weight="bold" style="letter-spacing:0.26px" stroke="#111" stroke-width="0.35" stroke-linejoin="round" clip-path="url(#k25)">165</text>
<text transform="translate(349.7 540.8) translate(-0.27 0) scale(0.92 1)" font-size="8.38" font-weight="bold" style="letter-spacing:0.57px" stroke="#111" stroke-width="0.35" stroke-linejoin="round">90</text>
<line x1="349" y1="512.4" x2="361.8" y2="512.4" stroke-width="0.9" style="stroke:#4a4a4a"/>
<line x1="348.5" y1="516" x2="361.8" y2="516" stroke-width="0.9" style="stroke:#4a4a4a"/>
<line x1="360" y1="501.5" x2="360" y2="517.3" stroke-width="1"/>
<line x1="358.5" y1="511.12" x2="361.5" y2="513.67" stroke-width="1.4"/>
<line x1="358.5" y1="514.73" x2="361.5" y2="517.27" stroke-width="1.4"/>
<text transform="translate(357 508.2) rotate(-90) translate(-0.12 0) scale(0.92 1)" font-size="8.38" font-weight="bold" style="letter-spacing:2.35px" stroke="#111" stroke-width="0.35" stroke-linejoin="round">40</text>
<text transform="translate(466.7 287.6) scale(0.9 1)" font-weight="bold" stroke="#111" stroke-width="0.5" stroke-linejoin="round"><tspan font-size="14.94" x="-0.22">2</tspan><tspan font-size="14.94" x="15.16">-</tspan><tspan font-size="14.94" x="25">2</tspan></text>
<line x1="461.3" y1="289.6" x2="501.8" y2="289.8" stroke-width="2.2"/>
<polyline points="477.4,466.4 491.5,466.4 491.4,318.8 483.5,318.8 482.3,310.3 475.4,310.3 473.8,316.4 469.5,317.6 469.6,472.8 470.6,474.2 476.2,474.2 477.4,466.4" stroke-width="1.1" fill="none"/>
<line x1="476.2" y1="463.4" x2="491.5" y2="463.4" stroke-width="1.5"/>
<polyline points="476.8,318 476.8,311.8 481,311.8 481,318" stroke-width="0.9" fill="none"/>
<line x1="481" y1="317" x2="482.8" y2="326.6" stroke-width="1.3"/>
<line x1="473" y1="321" x2="473.1" y2="463" stroke-width="1.5"/>
<line x1="488.2" y1="321" x2="488.8" y2="463" stroke-width="1.5"/>
<line x1="471.6" y1="321.8" x2="490.2" y2="321.8" stroke-width="1.4"/>
<line x1="471.6" y1="337.6" x2="490.2" y2="337.6" stroke-width="1.4"/>
<line x1="471.6" y1="354.6" x2="490.2" y2="354.6" stroke-width="1.4"/>
<line x1="471.6" y1="371.8" x2="490.2" y2="371.8" stroke-width="1.4"/>
<line x1="471.6" y1="389.1" x2="490.2" y2="389.1" stroke-width="1.4"/>
<line x1="471.6" y1="405.8" x2="490.2" y2="405.8" stroke-width="1.4"/>
<line x1="471.6" y1="422.4" x2="490.2" y2="422.4" stroke-width="1.4"/>
<line x1="471.6" y1="438.7" x2="490.2" y2="438.7" stroke-width="1.4"/>
<line x1="471.6" y1="455.5" x2="490.2" y2="455.5" stroke-width="1.4"/>
<circle cx="472.6" cy="322" r="1.5" fill="#111" stroke-width="0.5"/>
<circle cx="488.4" cy="322" r="1.5" fill="#111" stroke-width="0.5"/>
<polyline points="476.2,322.4 501.7,346.7 503.3,350 503.3,439 491.6,453.6" stroke-width="0.9" fill="none"/>
<line x1="477.4" y1="450" x2="476.8" y2="460.5" stroke-width="1"/>
<line x1="482.3" y1="462.1" x2="487.7" y2="457.3" stroke-width="0.9"/>
<circle cx="473.2" cy="465.8" r="1.7" fill="#111" stroke-width="0.8"/>
<circle cx="473" cy="471.2" r="1.7" fill="#111" stroke-width="0.8"/>
<line x1="486.3" y1="310" x2="528" y2="310" stroke-width="0.9" style="stroke:#4a4a4a"/>
<line x1="494.4" y1="474.2" x2="528.3" y2="474.2" stroke-width="0.9" style="stroke:#4a4a4a"/>
<line x1="524.6" y1="310" x2="524.4" y2="474.2" stroke-width="1"/>
<line x1="522.9" y1="308.56" x2="526.3" y2="311.44" stroke-width="1.4"/>
<line x1="522.7" y1="472.75" x2="526.1" y2="475.64" stroke-width="1.4"/>
<text transform="translate(521.6 401.8) rotate(-90) translate(-0.34 0) scale(0.87 1)" font-size="11.17" font-weight="bold" style="letter-spacing:0.23px" stroke="#111" stroke-width="0.35" stroke-linejoin="round">2900</text>
<text transform="translate(500.8 432.7) rotate(-90) translate(-0.21 0) scale(0.92 1)" font-size="9.22" font-weight="bold" style="letter-spacing:1.05px" stroke="#111" stroke-width="0.35" stroke-linejoin="round" clip-path="url(#k26)">АБНТ1-44-1</text>
<line x1="493.2" y1="318.8" x2="508.3" y2="318.8" stroke-width="0.9" style="stroke:#4a4a4a"/>
<line x1="493.2" y1="324.8" x2="508.3" y2="324.8" stroke-width="0.9" style="stroke:#4a4a4a"/>
<line x1="506.4" y1="317" x2="506.4" y2="331.5" stroke-width="1"/>
<line x1="504.9" y1="317.53" x2="507.9" y2="320.07" stroke-width="1.4"/>
<line x1="504.9" y1="323.53" x2="507.9" y2="326.07" stroke-width="1.4"/>
<text transform="translate(501.7 336) rotate(-90) translate(-0.3 0) scale(0.92 1)" font-size="9.36" font-weight="bold" style="letter-spacing:1.04px" stroke="#111" stroke-width="0.35" stroke-linejoin="round">25</text>
<line x1="494.4" y1="462.1" x2="509.5" y2="462.1" stroke-width="0.9" style="stroke:#4a4a4a"/>
<line x1="494.4" y1="466.1" x2="509.5" y2="466.1" stroke-width="0.9" style="stroke:#4a4a4a"/>
<line x1="507.7" y1="451.8" x2="507.7" y2="468.2" stroke-width="1"/>
<line x1="506.2" y1="460.83" x2="509.2" y2="463.38" stroke-width="1.4"/>
<line x1="506.2" y1="464.83" x2="509.2" y2="467.38" stroke-width="1.4"/>
<text transform="translate(504.7 460.3) rotate(-90) translate(-0.3 0) scale(0.83 1)" font-size="10.2" font-weight="bold" style="letter-spacing:0.24px" stroke="#111" stroke-width="0.35" stroke-linejoin="round">25</text>
<line x1="470.6" y1="476.7" x2="470.6" y2="500.5" stroke-width="0.9" style="stroke:#4a4a4a"/>
<line x1="492.2" y1="477.3" x2="492.2" y2="500.5" stroke-width="0.9" style="stroke:#4a4a4a"/>
<line x1="468.2" y1="498.2" x2="493.8" y2="498.2" stroke-width="1"/>
<line x1="468.9" y1="499.9" x2="472.3" y2="496.5" stroke-width="1.4"/>
<line x1="490.5" y1="499.9" x2="493.9" y2="496.5" stroke-width="1.4"/>
<text transform="translate(473.6 493.8) translate(-0.23 0) scale(0.91 1)" font-size="10.34" font-weight="bold" style="letter-spacing:0.22px" stroke="#111" stroke-width="0.35" stroke-linejoin="round">300</text>
</svg>
</body>
</html>
